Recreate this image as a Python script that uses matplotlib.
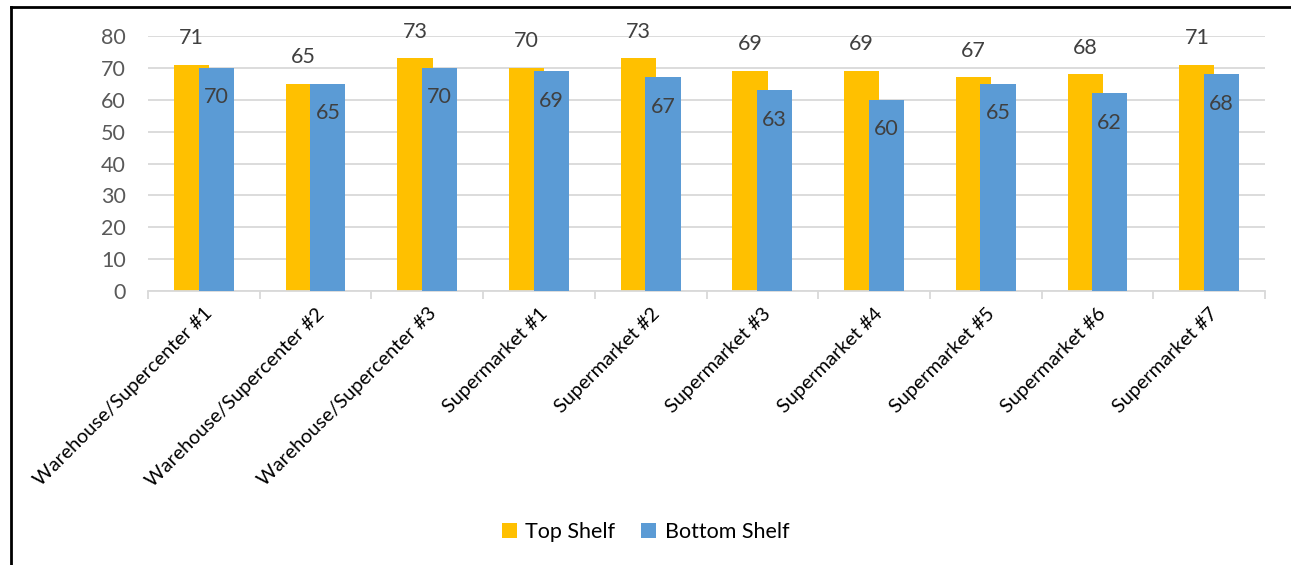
import numpy as np
import matplotlib.pyplot as plt
from matplotlib.lines import Line2D

plt.rcParams['font.family'] = ['Lato', 'DejaVu Sans']

stores = ["Warehouse/Supercenter #1", "Warehouse/Supercenter #2", "Warehouse/Supercenter #3",
          "Supermarket #1", "Supermarket #2", "Supermarket #3", "Supermarket #4",
          "Supermarket #5", "Supermarket #6", "Supermarket #7"]
top_shelf = [71, 65, 73, 70, 73, 69, 69, 67, 68, 71]
bottom_shelf = [70, 65, 70, 69, 67, 63, 60, 65, 62, 68]

yellow = "#FFC000"
blue = "#5B9BD5"
grid = "#D9D9D9"
label_col = "#404040"

fig = plt.figure(figsize=(12.91, 5.65), dpi=100)
ax = fig.add_axes([148 / 1291, 1 - 291 / 565, (1265 - 148) / 1291, (291 - 36) / 565])

x = np.arange(len(stores))
w = 0.315
off = 0.11
ax.bar(x - off, top_shelf, w, color=yellow, label="Top Shelf", zorder=2)
ax.bar(x + off, bottom_shelf, w, color=blue, label="Bottom Shelf", zorder=3)

for xi, v in zip(x, top_shelf):
    ax.annotate(str(v), (xi - off, v), xytext=(0, 12), textcoords="offset points",
                ha="center", va="bottom", fontsize=15.5, color=label_col)
for xi, v in zip(x, bottom_shelf):
    ax.annotate(str(v), (xi + off, v), xytext=(0, -14), textcoords="offset points",
                ha="center", va="top", fontsize=15.5, color=label_col)

ax.set_xlim(-0.5, len(stores) - 0.5)
ax.set_ylim(0, 80)
ax.set_yticks(range(0, 81, 10))
ax.yaxis.grid(True, color=grid, linewidth=1.3, zorder=0)
ax.set_axisbelow(True)
for s in ["top", "right", "left"]:
    ax.spines[s].set_visible(False)
ax.spines["bottom"].set_color(grid)
ax.spines["bottom"].set_linewidth(1.3)
ax.tick_params(axis="y", length=0, labelsize=15.5, labelcolor="#595959", pad=16)

ax.set_xticks(x)
ax.set_xticklabels(stores, rotation=45, ha="right", rotation_mode="anchor", fontsize=14.3)
ax.tick_params(axis="x", length=0, pad=10)
ax.set_xticks(np.arange(-0.5, len(stores)), minor=True)
ax.tick_params(axis="x", which="minor", length=6, color=grid, width=1.3)

ax.legend(loc="center", bbox_to_anchor=(0.5, 1 - 532 / 565), bbox_transform=fig.transFigure,
          ncol=2, frameon=False, fontsize=15.5, handlelength=0.7, handleheight=0.7,
          columnspacing=1.2, handletextpad=0.4)

fig.add_artist(Line2D([11 / 1291, 11 / 1291], [0, 1 - 7 / 565], color="black", linewidth=2))
fig.add_artist(Line2D([11 / 1291, 1], [1 - 7 / 565, 1 - 7 / 565], color="black", linewidth=2))

fig.savefig("out.png", dpi=100)
